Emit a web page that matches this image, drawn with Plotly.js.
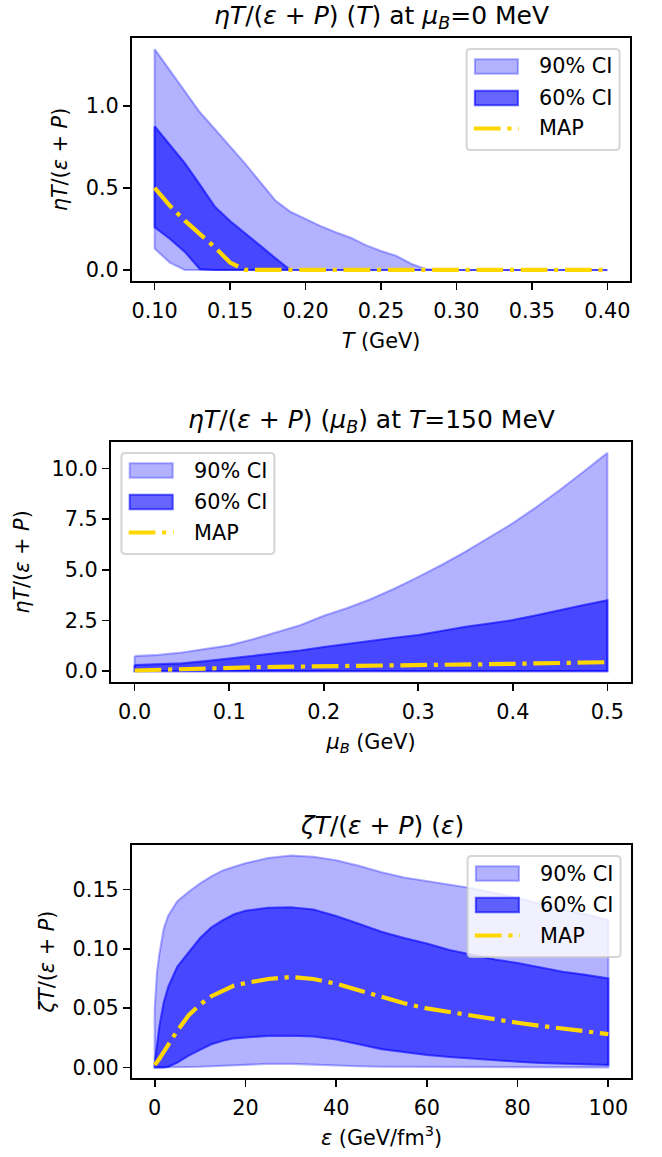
<!DOCTYPE html>
<html>
<head>
<meta charset="utf-8">
<script src="https://cdn.plot.ly/plotly-3.0.1.min.js"></script>
<style>
  html, body { margin: 0; padding: 0; background: #fff; }
  #chart { width: 662px; height: 1157px; }
</style>
</head>
<body>
<div id="chart"></div>
<script>
// ---- eta*T/(e+P) as a function of T at mu_B = 0 ----
const T_GeV = [0.10, 0.11, 0.12, 0.13, 0.14, 0.15, 0.16, 0.17, 0.18, 0.19, 0.20,
               0.21, 0.22, 0.23, 0.24, 0.25, 0.26, 0.27, 0.28, 0.29, 0.30,
               0.31, 0.32, 0.33, 0.34, 0.35, 0.36, 0.37, 0.38, 0.39, 0.40];
const etaT_ci90_hi = [1.345, 1.215, 1.085, 0.96, 0.857, 0.754, 0.647, 0.535, 0.423, 0.354, 0.308,
                      0.267, 0.23, 0.196, 0.151, 0.116, 0.086, 0.038, 0.005, 0, 0,
                      0, 0, 0, 0, 0, 0, 0, 0, 0, 0];
const etaT_ci90_lo = [0.13, 0.045, 0, 0, 0, 0, 0, 0, 0, 0, 0,
                      0, 0, 0, 0, 0, 0, 0, 0, 0, 0,
                      0, 0, 0, 0, 0, 0, 0, 0, 0, 0];
const etaT_ci60_hi = [0.875, 0.763, 0.651, 0.52, 0.384, 0.298, 0.225, 0.148, 0.072, 0, 0,
                      0, 0, 0, 0, 0, 0, 0, 0, 0, 0,
                      0, 0, 0, 0, 0, 0, 0, 0, 0, 0];
const etaT_ci60_lo = [0.26, 0.19, 0.11, 0.005, 0, 0, 0, 0, 0, 0, 0,
                      0, 0, 0, 0, 0, 0, 0, 0, 0, 0,
                      0, 0, 0, 0, 0, 0, 0, 0, 0, 0];
const etaT_map     = [0.5, 0.392, 0.30, 0.221, 0.137, 0.045, 0, 0, 0, 0, 0,
                      0, 0, 0, 0, 0, 0, 0, 0, 0, 0,
                      0, 0, 0, 0, 0, 0, 0, 0, 0, 0];

// ---- eta*T/(e+P) as a function of mu_B at T = 150 MeV ----
const muB_GeV = [0, 0.025, 0.05, 0.075, 0.1, 0.125, 0.15, 0.175, 0.2, 0.225, 0.25,
                 0.275, 0.3, 0.325, 0.35, 0.375, 0.4, 0.425, 0.45, 0.475, 0.5];
const etaMu_ci90_hi = [0.74, 0.80, 0.92, 1.09, 1.27, 1.57, 1.91, 2.26, 2.73, 3.11, 3.56,
                       4.08, 4.65, 5.25, 5.9, 6.6, 7.3, 8.1, 8.95, 9.85, 10.77];
const etaMu_ci90_lo = [0, 0, 0, 0, 0, 0, 0, 0, 0, 0, 0,
                       0, 0, 0, 0, 0, 0, 0, 0, 0, 0];
const etaMu_ci60_hi = [0.30, 0.33, 0.38, 0.49, 0.62, 0.74, 0.86, 1.02, 1.19, 1.35, 1.52,
                       1.65, 1.78, 1.98, 2.19, 2.35, 2.52, 2.76, 3.02, 3.26, 3.5];
const etaMu_ci60_lo = [0, 0, 0, 0, 0, 0, 0, 0, 0, 0, 0,
                       0, 0, 0, 0, 0, 0, 0, 0, 0, 0];
const etaMu_map     = [0.03, 0.07, 0.10, 0.14, 0.17, 0.19, 0.21, 0.23, 0.25, 0.26, 0.27,
                       0.28, 0.30, 0.31, 0.33, 0.34, 0.36, 0.38, 0.40, 0.42, 0.44];

// ---- zeta*T/(e+P) as a function of energy density ----
const eps_GeVfm3 = [0, 0.5, 1, 2, 3, 5, 7.5, 10, 12.5, 15, 17.5, 20, 25, 30,
                    35, 40, 45, 50, 55, 60, 65, 70, 75, 80, 85, 90, 95, 100];
const zeta_ci90_hi = [0.05, 0.08, 0.095, 0.117, 0.128, 0.14, 0.148, 0.155, 0.161, 0.166, 0.169, 0.172, 0.1765, 0.1785,
                      0.1775, 0.1745, 0.170, 0.1645, 0.160, 0.157, 0.154, 0.151, 0.147, 0.143, 0.138, 0.133, 0.129, 0.124];
const zeta_ci90_lo = [0, 0, 0, 0, 0, 0, 0.0003, 0.0005, 0.0008, 0.001, 0.0015, 0.002, 0.003, 0.003,
                      0.0026, 0.0018, 0.001, 0.0006, 0.0003, 0.0001, 0, 0, 0, 0, 0, 0, 0, 0];
const zeta_ci60_hi = [0.003, 0.02, 0.034, 0.055, 0.068, 0.085, 0.097, 0.109, 0.118, 0.124, 0.129, 0.132, 0.1345, 0.135,
                      0.133, 0.1275, 0.121, 0.1143, 0.109, 0.1045, 0.099, 0.095, 0.091, 0.088, 0.084, 0.0806, 0.078, 0.075];
const zeta_ci60_lo = [0, 0, 0, 0, 0.0005, 0.004, 0.01, 0.0148, 0.0195, 0.0225, 0.0245, 0.0256, 0.0266, 0.0267,
                      0.026, 0.0235, 0.0195, 0.0154, 0.0126, 0.0104, 0.0088, 0.0072, 0.006, 0.0048, 0.0037, 0.003, 0.0025, 0.002];
const zeta_map     = [0.002, 0.004, 0.007, 0.013, 0.019, 0.031, 0.044, 0.053, 0.060, 0.065, 0.069, 0.071, 0.0745, 0.0762,
                      0.0745, 0.0705, 0.065, 0.0596, 0.054, 0.0497, 0.0465, 0.0433, 0.0405, 0.0376, 0.035, 0.0329, 0.0305, 0.0281];

const legendLabels = ['90% CI', '60% CI', 'MAP'];

// ---- styling ----
const W = 662, H = 1157;
const FONT = 'DejaVu Sans, Verdana, sans-serif';
const FS = 20.8;          // 10 pt
const TITLE_FS = 25;      // 12 pt
const LW = 2.08;          // band edge width
const MAP_COLOR = '#FFD700';
const MAP_WIDTH = 4.2;
const MAP_DASH = '26.7px,6.7px,4.2px,6.7px';
const ALPHA90 = 0.3, ALPHA60 = 0.6;
const blue = a => `rgba(0,0,255,${a})`;

// closed polygon between lower and upper bound (outline drawn all round)
function band(x, lo, hi, alpha, xa, ya) {
  const xs = x.concat(x.slice().reverse(), [x[0]]);
  const ys = hi.concat(lo.slice().reverse(), [hi[0]]);
  return {
    type: 'scatter', mode: 'lines', x: xs, y: ys, xaxis: xa, yaxis: ya,
    fill: 'toself', fillcolor: blue(alpha),
    line: { color: blue(alpha), width: LW },
    hoverinfo: 'skip', showlegend: false
  };
}
function mapLine(x, y, xa, ya) {
  return {
    type: 'scatter', mode: 'lines', x: x, y: y, xaxis: xa, yaxis: ya,
    line: { color: MAP_COLOR, width: MAP_WIDTH, dash: MAP_DASH },
    showlegend: false
  };
}
// data limits padded by 5% on each side
function padded(arrays) {
  const all = [].concat(...arrays);
  const lo = Math.min(...all), hi = Math.max(...all);
  const m = 0.05 * (hi - lo);
  return [lo - m, hi + m];
}
const xDom = (l, r) => [l / W, r / W];
const yDom = (top, bottom) => [1 - bottom / H, 1 - top / H];

const axisBase = {
  showline: true, linecolor: '#000', linewidth: 1.67, mirror: true,
  ticks: 'outside', ticklen: 7.3, tickwidth: 1.67, tickcolor: '#000',
  showgrid: false, zeroline: false, fixedrange: true,
  tickfont: { family: FONT, size: FS, color: '#000' },
  tickmode: 'linear'
};
const xBase = Object.assign({}, axisBase, { ticklabelstandoff: 3 });
const axTitle = (text, standoff) => ({ text: text, font: { family: FONT, size: FS, color: '#000' }, standoff: standoff });

const traces = [
  band(T_GeV, etaT_ci90_lo, etaT_ci90_hi, ALPHA90, 'x', 'y'),
  band(T_GeV, etaT_ci60_lo, etaT_ci60_hi, ALPHA60, 'x', 'y'),
  mapLine(T_GeV, etaT_map, 'x', 'y'),
  band(muB_GeV, etaMu_ci90_lo, etaMu_ci90_hi, ALPHA90, 'x2', 'y2'),
  band(muB_GeV, etaMu_ci60_lo, etaMu_ci60_hi, ALPHA60, 'x2', 'y2'),
  mapLine(muB_GeV, etaMu_map, 'x2', 'y2'),
  band(eps_GeVfm3, zeta_ci90_lo, zeta_ci90_hi, ALPHA90, 'x3', 'y3'),
  band(eps_GeVfm3, zeta_ci60_lo, zeta_ci60_hi, ALPHA60, 'x3', 'y3'),
  mapLine(eps_GeVfm3, zeta_map, 'x3', 'y3')
];

const shapes = [];
const annotations = [];

function subplotTitle(xa, ya, text) {
  annotations.push({
    xref: xa + ' domain', yref: ya + ' domain', x: 0.5, y: 1,
    xanchor: 'center', yanchor: 'bottom', yshift: 3,
    text: text, showarrow: false,
    font: { family: FONT, size: TITLE_FS, color: '#000' }
  });
}

// legend box anchored to an upper corner of the axes, offsets in px
function legendBox(xa, ya, side) {
  const xr = xa + ' domain', yr = ya + ' domain';
  const ax = side === 'right' ? 1 : 0;
  const boxW = 153, boxH = 101, pad = 10.4, r = 4;
  const L = side === 'right' ? -pad - boxW : pad;
  const R = L + boxW;
  const T = -11, B = T - boxH;
  const common = { xref: xr, yref: yr, xsizemode: 'pixel', ysizemode: 'pixel', xanchor: ax, yanchor: 1, layer: 'above' };
  shapes.push(Object.assign({}, common, {
    type: 'path',
    path: `M${L + r},${T} H${R - r} Q${R},${T} ${R},${T - r} V${B + r} Q${R},${B} ${R - r},${B} ` +
          `H${L + r} Q${L},${B} ${L},${B + r} V${T - r} Q${L},${T} ${L + r},${T} Z`,
    fillcolor: 'rgba(255,255,255,0.8)',
    line: { color: 'rgba(204,204,204,0.8)', width: 2.08 }
  }));
  const rows = [T - 17.5, T - 49, T - 79.5];
  const hx0 = L + 8.3, hx1 = L + 51.3, hh = 7.3;
  [ALPHA90, ALPHA60].forEach((a, i) => {
    shapes.push(Object.assign({}, common, {
      type: 'rect', x0: hx0, x1: hx1, y0: rows[i] - hh, y1: rows[i] + hh,
      fillcolor: blue(a), line: { color: blue(a), width: LW }
    }));
  });
  shapes.push(Object.assign({}, common, {
    type: 'line', x0: L + 7.3, x1: L + 52.3, y0: rows[2], y1: rows[2],
    line: { color: MAP_COLOR, width: MAP_WIDTH, dash: MAP_DASH }
  }));
  legendLabels.forEach((lab, i) => {
    annotations.push({
      xref: xr, yref: yr, x: ax, y: 1, xanchor: 'left', yanchor: 'middle',
      xshift: L + 70.3, yshift: rows[i], text: lab, showarrow: false,
      font: { family: FONT, size: FS, color: '#000' }
    });
  });
}

subplotTitle('x', 'y', '<i>ηT</i>/(<i>ε</i> + <i>P</i>) (<i>T</i>) at <i>μ<sub>B</sub></i>=0 MeV');
subplotTitle('x2', 'y2', '<i>ηT</i>/(<i>ε</i> + <i>P</i>) (<i>μ<sub>B</sub></i>) at <i>T</i>=150 MeV');
subplotTitle('x3', 'y3', '<i>ζT</i>/(<i>ε</i> + <i>P</i>) (<i>ε</i>)');
legendBox('x', 'y', 'right');
legendBox('x2', 'y2', 'left');
legendBox('x3', 'y3', 'right');

const layout = {
  width: W, height: H,
  margin: { l: 0, r: 0, t: 0, b: 0 },
  paper_bgcolor: '#fff', plot_bgcolor: '#fff',
  font: { family: FONT, size: FS, color: '#000' },
  showlegend: false,
  xaxis: Object.assign({}, xBase, {
    domain: xDom(132, 630), anchor: 'y', range: padded([T_GeV]),
    tick0: 0.1, dtick: 0.05, tickformat: '.2f',
    title: axTitle('<i>T</i> (GeV)', 11)
  }),
  yaxis: Object.assign({}, axisBase, {
    domain: yDom(38, 281), anchor: 'x',
    range: padded([etaT_ci90_lo, etaT_ci90_hi, etaT_ci60_lo, etaT_ci60_hi, etaT_map]),
    tick0: 0, dtick: 0.5, tickformat: '.1f',
    title: axTitle('<i>ηT</i>/(<i>ε</i> + <i>P</i>)', 12)
  }),
  xaxis2: Object.assign({}, xBase, {
    domain: xDom(111, 631), anchor: 'y2', range: padded([muB_GeV]),
    tick0: 0, dtick: 0.1, tickformat: '.1f',
    title: axTitle('<i>μ<sub>B</sub></i> (GeV)', 11)
  }),
  yaxis2: Object.assign({}, axisBase, {
    domain: yDom(442, 682), anchor: 'x2',
    range: padded([etaMu_ci90_lo, etaMu_ci90_hi, etaMu_ci60_lo, etaMu_ci60_hi, etaMu_map]),
    tick0: 0, dtick: 2.5, tickformat: '.1f',
    title: axTitle('<i>ηT</i>/(<i>ε</i> + <i>P</i>)', 16)
  }),
  xaxis3: Object.assign({}, xBase, {
    domain: xDom(132, 631), anchor: 'y3', range: padded([eps_GeVfm3]),
    tick0: 0, dtick: 20, tickformat: 'd',
    title: axTitle('<i>ε</i> (GeV/fm<sup>3</sup>)', 11)
  }),
  yaxis3: Object.assign({}, axisBase, {
    domain: yDom(845, 1078), anchor: 'x3',
    range: padded([zeta_ci90_lo, zeta_ci90_hi, zeta_ci60_lo, zeta_ci60_hi, zeta_map]),
    tick0: 0, dtick: 0.05, tickformat: '.2f',
    title: axTitle('<i>ζT</i>/(<i>ε</i> + <i>P</i>)', 12)
  }),
  shapes: shapes,
  annotations: annotations
};

Plotly.newPlot('chart', traces, layout, { staticPlot: true, displayModeBar: false });
</script>
</body>
</html>
